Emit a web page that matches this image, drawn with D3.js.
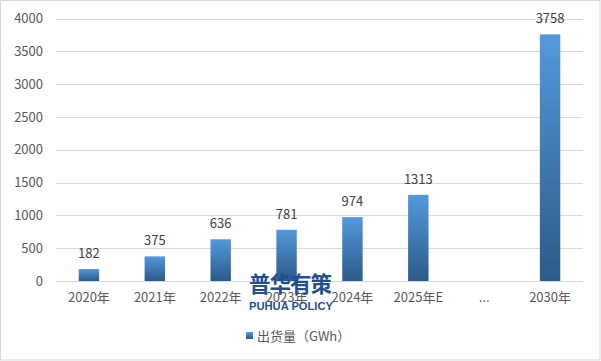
<!DOCTYPE html>
<html><head><meta charset="utf-8">
<script src="https://cdn.jsdelivr.net/npm/d3@7/dist/d3.min.js"></script>
<style>body{margin:0;background:#fff}svg{display:block}</style>
</head><body>
<script>
const categories = ["2020年","2021年","2022年","2023年","2024年","2025年E","...","2030年"];
const values = [182, 375, 636, 781, 974, 1313, null, 3758];
const yTicks = [0,500,1000,1500,2000,2500,3000,3500,4000];
const seriesName = "出货量（GWh）";

const W = 601, H = 361;
const m = {left:56, right:18, top:18.5, bottom:80};
const font = "'Noto Sans CJK SC','Microsoft YaHei',sans-serif";
const svg = d3.select("body").append("svg").attr("width",W).attr("height",H);
svg.append("rect").attr("x",0.5).attr("y",0.5).attr("width",W-1.5).attr("height",H-1.5)
  .attr("fill","#fff").attr("stroke","#d9d9d9");

const defs = svg.append("defs");
const g = defs.append("linearGradient").attr("id","bg").attr("x1",0).attr("y1",0).attr("x2",0).attr("y2",1);
g.append("stop").attr("offset","0%").attr("stop-color","#5399dc");
g.append("stop").attr("offset","100%").attr("stop-color","#2c5a88");

const x = d3.scaleBand().domain(categories).range([m.left, 583]).paddingInner(0.69).paddingOuter(0.345);
const y = d3.scaleLinear().domain([0,4000]).range([281, m.top]);

// grid
svg.append("g").selectAll("line").data(yTicks).join("line")
  .attr("x1",m.left).attr("x2",583).attr("y1",d=>Math.round(y(d))+0.5).attr("y2",d=>Math.round(y(d))+0.5)
  .attr("stroke","#d9d9d9").attr("stroke-width",1);

// y axis
const ya = svg.append("g").attr("transform",`translate(${m.left},0)`)
  .call(d3.axisLeft(y).tickValues(yTicks).tickFormat(d3.format("d")).tickSize(0).tickPadding(13));
ya.select(".domain").remove();
ya.selectAll("text").attr("font-family",font).attr("font-size",13).attr("fill","#595959");

// x axis
const xa = svg.append("g").attr("transform",`translate(0,281)`)
  .call(d3.axisBottom(x).tickSize(0).tickPadding(12));
xa.select(".domain").remove();
xa.selectAll("text").attr("font-family",font).attr("font-size",13).attr("fill","#595959");

const data = categories.map((c,i)=>({c, v:values[i]})).filter(d=>d.v!=null);

svg.append("g").selectAll("rect").data(data).join("rect")
  .attr("x",d=>x(d.c)).attr("width",x.bandwidth())
  .attr("y",d=>y(d.v)).attr("height",d=>y(0)-y(d.v))
  .attr("fill","url(#bg)");

svg.append("g").selectAll("text").data(data).join("text")
  .attr("x",d=>x(d.c)+x.bandwidth()/2).attr("y",d=>y(d.v)-11)
  .attr("text-anchor","middle").attr("font-family",font).attr("font-size",13).attr("fill","#404040")
  .text(d=>d.v);

// watermark
svg.append("text").attr("x",290.5).attr("y",292).attr("text-anchor","middle")
  .attr("font-family",font).attr("font-weight","bold").attr("font-size",21.5)
  .attr("fill","#1f4f8f").attr("textLength",83).text("普华有策");
svg.append("text").attr("x",291).attr("y",310).attr("text-anchor","middle")
  .attr("font-family","'Liberation Sans',Arial,sans-serif").attr("font-weight","bold").attr("font-size",11.5)
  .attr("fill","#1f4f8f").attr("textLength",84).attr("lengthAdjust","spacingAndGlyphs").text("PUHUA POLICY");

// legend
svg.append("rect").attr("x",246).attr("y",332).attr("width",7).attr("height",7).attr("fill","url(#bg)");
svg.append("text").attr("x",257).attr("y",340.5).attr("font-family",font).attr("font-size",13)
  .attr("fill","#595959").text(seriesName);
</script>
</body></html>
